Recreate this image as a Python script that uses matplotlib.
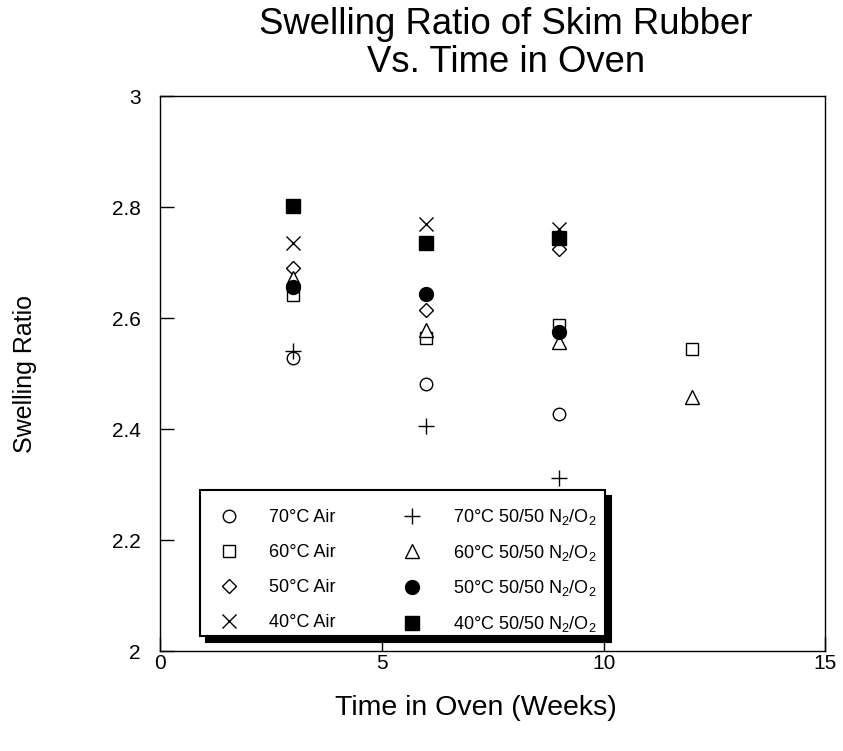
import matplotlib
matplotlib.use("Agg")
import matplotlib.pyplot as plt
import matplotlib.transforms as mtransforms
from matplotlib.patches import Rectangle
from matplotlib.ticker import FuncFormatter

plt.rcParams['font.family'] = ['Liberation Sans', 'DejaVu Sans']
plt.rcParams['mathtext.fontset'] = 'custom'
plt.rcParams['mathtext.rm'] = 'Liberation Sans'
plt.rcParams['mathtext.it'] = 'Liberation Sans'

# weeks in oven
weeks = [3, 6, 9]
weeks_long = [3, 6, 9, 12]

# swelling ratios
air_70 = [2.529, 2.481, 2.428]
air_60 = [2.641, 2.564, 2.587, 2.545]
air_50 = [2.690, 2.615, 2.725]
air_40 = [2.735, 2.770, 2.760]
mix_70 = [2.540, 2.406, 2.312]
mix_60 = [2.672, 2.579, 2.557, 2.458]
mix_50 = [2.656, 2.644, 2.575]
mix_40 = [2.802, 2.735, 2.744]

air_labels = ["70°C Air", "60°C Air", "50°C Air", "40°C Air"]
mix_labels = ["70°C 50/50 N$_2$/O$_2$", "60°C 50/50 N$_2$/O$_2$",
              "50°C 50/50 N$_2$/O$_2$", "40°C 50/50 N$_2$/O$_2$"]

fig = plt.figure(figsize=(8.43, 7.51), dpi=100)
ax = fig.add_axes([0.19, 0.133, 0.789, 0.739])

ms = 9
h1, = ax.plot(weeks, air_70, 'o', mfc='white', mec='black', ms=ms, mew=1)
h2, = ax.plot(weeks_long, air_60, 's', mfc='white', mec='black', ms=ms, mew=1)
h3, = ax.plot(weeks, air_50, 'D', mfc='white', mec='black', ms=ms - 2, mew=1)
h4, = ax.plot(weeks, air_40, 'x', color='black', ms=ms + 1, mew=1)
h5, = ax.plot(weeks, mix_70, '+', color='black', ms=ms + 3, mew=1)
h6, = ax.plot(weeks_long, mix_60, '^', mfc='white', mec='black', ms=ms + 1, mew=1)
h7, = ax.plot(weeks, mix_50, 'o', color='black', ms=ms + 1)
h8, = ax.plot(weeks, mix_40, 's', color='black', ms=ms + 1)

ax.set_xlim(0, 15)
ax.set_ylim(2, 3)
ax.set_xticks([0, 5, 10, 15])
ax.set_yticks([2, 2.2, 2.4, 2.6, 2.8, 3])
ax.yaxis.set_major_formatter(FuncFormatter(lambda v, p: f"{v:g}"))
ax.tick_params(direction='in', length=10, width=1, labelsize=15)
ax.tick_params(axis='y', pad=14)
ax.tick_params(axis='x', pad=2)
for s in ax.spines.values():
    s.set_linewidth(1)

ax.set_xlabel("Time in Oven (Weeks)", fontsize=20.5, labelpad=16)
ax.xaxis.label.set_x(0.475)
ax.set_ylabel("Swelling Ratio", fontsize=18, labelpad=54)

fig.text(0.6, 0.9415, "Swelling Ratio of Skim Rubber\nVs. Time in Oven", ha='center', va='center',
         fontsize=26.3, linespacing=1.11)

# legend box with a solid drop shadow
shift = mtransforms.ScaledTranslation(4.5 / 72, -4.5 / 72, fig.dpi_scale_trans)
shadow = Rectangle((0.06, 0.027), 0.609, 0.263, transform=ax.transAxes + shift,
                   facecolor='black', edgecolor='black', linewidth=1.5, zorder=3.9)
box = Rectangle((0.06, 0.027), 0.609, 0.263, transform=ax.transAxes,
                facecolor='white', edgecolor='black', linewidth=1.5, zorder=4)
ax.add_patch(shadow)
ax.add_patch(box)

# two legends, one per column, so the rows can be spaced evenly
leg_opts = dict(loc='upper left', fontsize=13, frameon=False, borderaxespad=0, borderpad=0.6,
                handlelength=2.0, handletextpad=1.24)
leg1 = ax.legend([h1, h2, h3, h4], air_labels, bbox_to_anchor=(0.06, 0.2757),
                 labelspacing=1.0, **leg_opts)
leg1.set_zorder(5)
ax.add_artist(leg1)
leg2 = ax.legend([h5, h6, h7, h8], mix_labels, bbox_to_anchor=(0.3355, 0.2793),
                 labelspacing=0.87, **leg_opts)
leg2.set_zorder(5)

fig.savefig("out.png", dpi=100)
